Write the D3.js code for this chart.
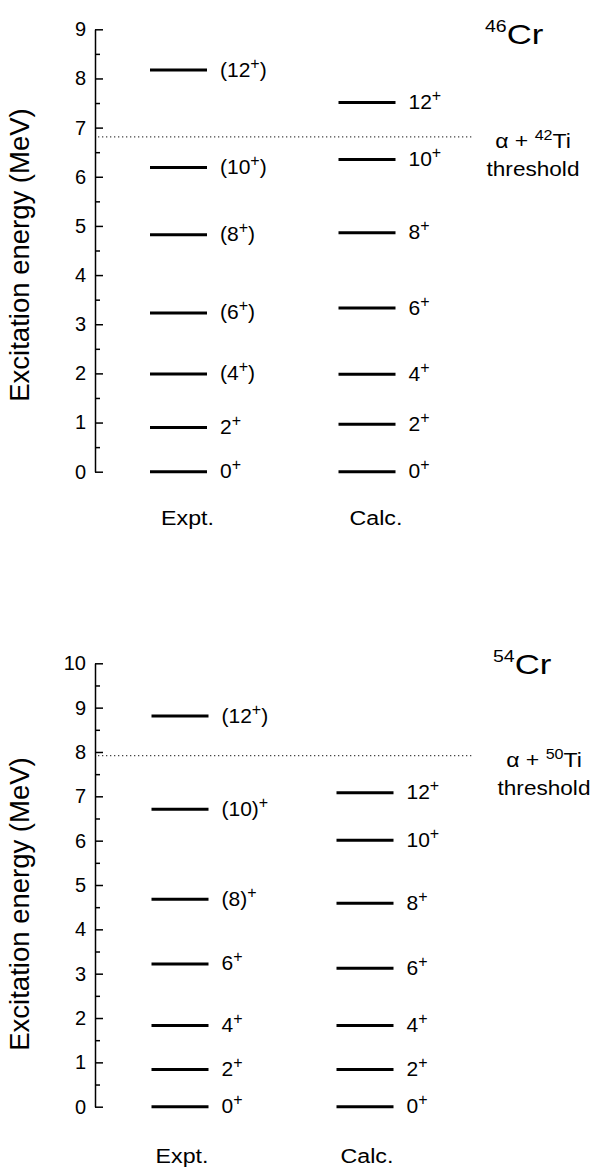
<!DOCTYPE html>
<html>
<head>
<meta charset="utf-8">
<script src="https://cdn.jsdelivr.net/npm/d3@7"></script>
<style>
  body { margin: 0; background: #fff; }
  svg { display: block; font-family: "Liberation Sans", Arial, sans-serif; }
</style>
</head>
<body>
<div id="chart"></div>
<script>
//~~~~~~~~~~~~~~~~~~DATA (level energies in MeV)
const columns = ["Expt.", "Calc."];

const cr46Expt = [0, 0.90, 1.99, 3.23, 4.82, 6.19, 8.17];
const cr46ExptSpins = ["0+", "2+", "(4+)", "(6+)", "(8+)", "(10+)", "(12+)"];
const cr46Calc = [0, 0.965, 1.98, 3.33, 4.86, 6.35, 7.51];
const cr46CalcSpins = ["0+", "2+", "4+", "6+", "8+", "10+", "12+"];
const cr46Threshold = 6.81;
const cr46Ticks = [0, 1, 2, 3, 4, 5, 6, 7, 8, 9];

const cr54Expt = [0, 0.84, 1.83, 3.22, 4.68, 6.71, 8.81];
const cr54ExptSpins = ["0+", "2+", "4+", "6+", "(8)+", "(10)+", "(12+)"];
const cr54Calc = [0, 0.84, 1.83, 3.12, 4.59, 6.01, 7.08];
const cr54CalcSpins = ["0+", "2+", "4+", "6+", "8+", "10+", "12+"];
const cr54Threshold = 7.92;
const cr54Ticks = [0, 1, 2, 3, 4, 5, 6, 7, 8, 9, 10];

//~~~~~~~~~~~~~~~~~~SETUP
const width = 601;
const height = 1174;
const font = 20;

const svg = d3.select("#chart").append("svg")
  .attr("width", width)
  .attr("height", height);

//writes a spin label like "(12+)" with the "+" raised
function spinText(sel, s) {
  let i = s.indexOf("+");
  sel.append("tspan").text(s.slice(0, i));
  sel.append("tspan").attr("dy", -8).attr("font-size", 16).text("+");
  if (i < s.length - 1) sel.append("tspan").attr("dy", 8).text(s.slice(i + 1));
}

//text placed at x,y and stretched sideways (the original figure is a bit wide)
function wideText(g, x, y, sx) {
  return g.append("text").attr("transform", `translate(${x},${y}) scale(${sx},1)`);
}

function panel(p) {
  let y = d3.scaleLinear().domain([0, p.ticks[p.ticks.length - 1]]).range([p.y0, p.y1]);
  let x = d3.scalePoint().domain(columns).range(p.cols);
  let half = 28.5;
  let g = svg.append("g");

  //minor ticks on the halves
  let minors = p.ticks.slice(1).map(t => t - 0.5);
  g.append("g")
    .attr("transform", `translate(${p.axisX},0)`)
    .call(d3.axisLeft(y).tickValues(minors).tickSize(-5).tickFormat(""))
    .call(a => a.select(".domain").remove())
    .selectAll("line").attr("stroke-width", 1.5);

  //major ticks and labels
  let ax = g.append("g")
    .attr("transform", `translate(${p.axisX},0)`)
    .call(d3.axisLeft(y).tickValues(p.ticks).tickSize(-8).tickSizeOuter(0).tickPadding(9).tickFormat(d3.format("d")));
  ax.select(".domain").attr("stroke-width", 1.5);
  ax.selectAll("line").attr("stroke-width", 1.5);
  ax.selectAll("text").attr("font-size", font).attr("font-family", "Liberation Sans, Arial, sans-serif").attr("fill", "#000");

  //axis title
  g.append("text")
    .attr("transform", `translate(29,${p.titleY}) rotate(-90)`)
    .attr("text-anchor", "middle")
    .attr("font-size", 27.5)
    .text("Excitation energy (MeV)");

  //threshold line
  g.append("line")
    .attr("x1", p.axisX + 3).attr("x2", 473)
    .attr("y1", y(p.threshold)).attr("y2", y(p.threshold))
    .attr("stroke", "#444").attr("stroke-width", 1.2)
    .attr("stroke-dasharray", "1.3,2.7");

  //levels
  let sets = [[columns[0], p.expt, p.exptSpins], [columns[1], p.calc, p.calcSpins]];
  sets.forEach(function(s) {
    let cx = x(s[0]);
    let lv = g.append("g").selectAll("g").data(s[1]).enter().append("g");
    lv.append("line")
      .attr("x1", cx - half).attr("x2", cx + half)
      .attr("y1", d => y(d)).attr("y2", d => y(d))
      .attr("stroke", "#000").attr("stroke-width", 3);
    lv.append("text")
      .attr("x", cx + half + 13)
      .attr("y", d => y(d) + 6.5)
      .attr("font-size", 21)
      .each(function(d, i) { spinText(d3.select(this), s[2][i]); });

    wideText(g, cx + p.colShift, p.colLabelY, 1.16)
      .attr("text-anchor", "middle")
      .attr("font-size", font)
      .text(s[0]);
  });

  //nucleus name
  let n = wideText(g, p.nameX, p.nameY, 1.22).attr("font-size", 28.5);
  n.append("tspan").attr("font-size", 16).attr("dy", -12).text(p.mass);
  n.append("tspan").attr("dy", 12).text("Cr");

  //threshold label
  let t = wideText(g, p.thrX, p.thrY, 1.15).attr("text-anchor", "middle").attr("font-size", font);
  t.append("tspan").text("\u03b1 + ");
  t.append("tspan").attr("font-size", 14).attr("dy", -8).text(p.partner);
  t.append("tspan").attr("dy", 8).text("Ti");
  wideText(g, p.thrX, p.thrY + 28, 1.13).attr("text-anchor", "middle").attr("font-size", font).text("threshold");
}

panel({
  ticks: cr46Ticks, y0: 471.7, y1: 29.3, axisX: 95, cols: [178.5, 367],
  expt: cr46Expt, exptSpins: cr46ExptSpins, calc: cr46Calc, calcSpins: cr46CalcSpins,
  threshold: cr46Threshold, titleY: 255, colShift: 9, colLabelY: 525,
  mass: "46", nameX: 485, nameY: 44, partner: "42", thrX: 533, thrY: 148
});

panel({
  ticks: cr54Ticks, y0: 1106.7, y1: 663.3, axisX: 95, cols: [180, 365],
  expt: cr54Expt, exptSpins: cr54ExptSpins, calc: cr54Calc, calcSpins: cr54CalcSpins,
  threshold: cr54Threshold, titleY: 904, colShift: 2, colLabelY: 1163,
  mass: "54", nameX: 493, nameY: 674, partner: "50", thrX: 544, thrY: 767
});
</script>
</body>
</html>
